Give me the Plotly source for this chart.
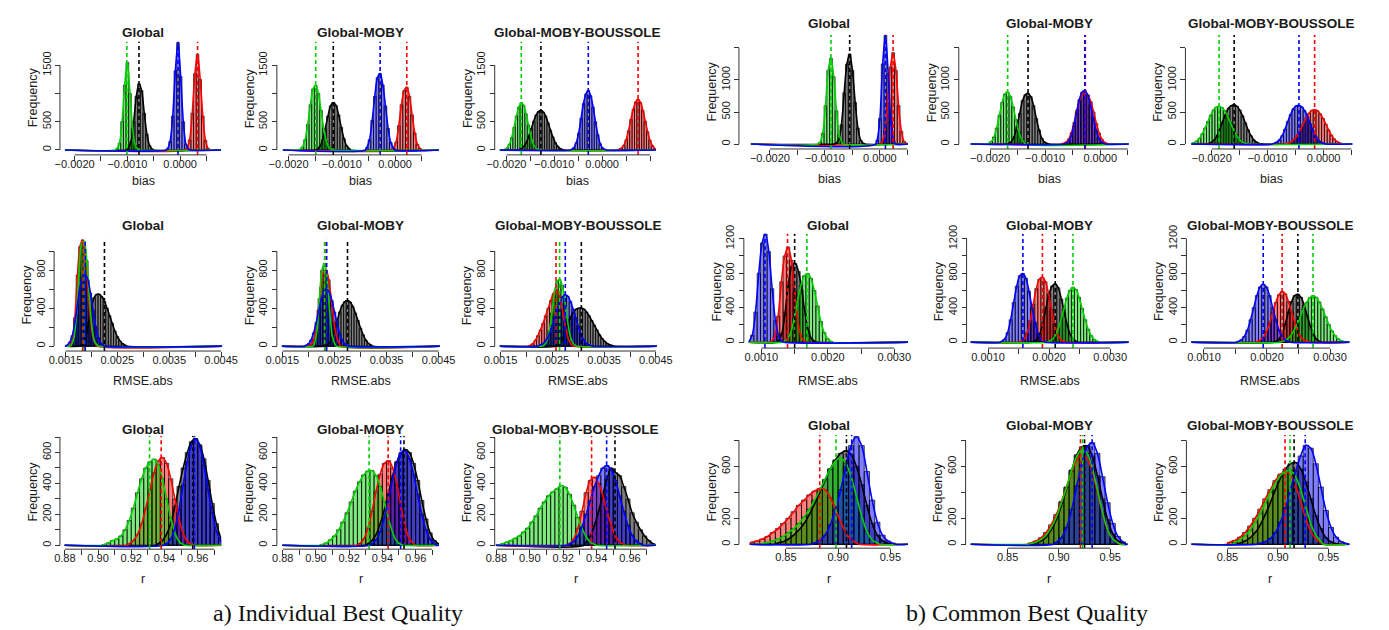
import plotly.graph_objects as go

# ------------------------------------------------------------------
# DATA
# ------------------------------------------------------------------
SERIES = ["black", "red", "green", "blue"]  # drawing order
PANEL_TITLES = ["Global", "Global-MOBY", "Global-MOBY-BOUSSOLE"]
X_LABELS = ["bias", "RMSE.abs", "r"]
Y_LABEL = "Frequency"
CAPTIONS = ["a) Individual Best Quality", "b) Common Best Quality"]

BIAS_TICKS = [-0.002, -0.0015, -0.001, -0.0005, 0.0, 0.0005, 0.001]
BIAS_TEXT = ["\u22120.0020", "", "\u22120.0010", "", "0.0000", "", ""]
RMSE_A_TICKS = [0.0015, 0.002, 0.0025, 0.003, 0.0035, 0.004, 0.0045]
RMSE_A_TEXT = ["0.0015", "", "0.0025", "", "0.0035", "", "0.0045"]
RMSE_B_TICKS = [0.001, 0.0015, 0.002, 0.0025, 0.003]
RMSE_B_TEXT = ["0.0010", "", "0.0020", "", "0.0030"]
R_A_TICKS = [0.88, 0.89, 0.90, 0.91, 0.92, 0.93, 0.94, 0.95, 0.96, 0.97]
R_A_TEXT = ["0.88", "", "0.90", "", "0.92", "", "0.94", "", "0.96", ""]
R_B_TICKS = [0.85, 0.90, 0.95]
R_B_TEXT = ["0.85", "0.90", "0.95"]

YT_A1 = [0, 500, 1000, 1500]; YL_A1 = ["0", "500", "", "1500"]
YT_B1 = [0, 500, 1000, 1500]; YL_B1 = ["0", "500", "1000", ""]
YT_A2 = [0, 200, 400, 600, 800, 1000]; YL_A2 = ["0", "", "400", "", "800", ""]
YT_B2 = [0, 200, 400, 600, 800, 1000, 1200]; YL_B2 = ["0", "", "400", "", "800", "", "1200"]
YT_A3 = [0, 100, 200, 300, 400, 500, 600, 700]; YL_A3 = ["0", "", "200", "", "400", "", "600", ""]
YT_B3 = [0, 200, 400, 600, 800]; YL_B3 = ["0", "200", "", "600", ""]

# ---- a) Individual best quality : bias ----
a11_bin = 0.00005
a11_mean = dict(green=-0.00101, black=-0.00078, blue=-0.00004, red=0.00033)
a11_start = dict(green=-0.001225, black=-0.001005, blue=-0.000265, red=0.000105)
a11_green = [20, 120, 500, 1150, 1550, 1000, 380, 80, 10]
a11_black = [30, 150, 500, 950, 1170, 1050, 650, 280, 80, 15]
a11_blue = [20, 150, 600, 1400, 1900, 1300, 500, 100, 15]
a11_red = [25, 180, 650, 1350, 1690, 1250, 600, 170, 25]

a12_bin = 0.00005
a12_mean = dict(green=-0.00149, black=-0.00116, blue=-0.00028, red=0.00022)
a12_start = dict(green=-0.001815, black=-0.001485, blue=-0.000555, red=-0.000055)
a12_green = [10, 50, 180, 450, 800, 1080, 1140, 1000, 700, 380, 150, 45, 10]
a12_black = [15, 60, 180, 380, 600, 780, 838, 790, 620, 400, 200, 75, 20]
a12_blue = [40, 180, 520, 950, 1280, 1350, 1150, 780, 380, 130, 30]
a12_red = [30, 140, 430, 800, 1050, 1110, 950, 620, 300, 100, 25]

a13_bin = 0.00005
a13_mean = dict(green=-0.00169, black=-0.00128, blue=-0.00029, red=0.00075)
a13_start = dict(green=-0.002065, black=-0.001755, blue=-0.000665, red=0.000325)
a13_green = [10, 35, 100, 220, 400, 600, 760, 838, 790, 640, 440, 250, 110, 40, 10]
a13_black = [10, 30, 70, 140, 250, 380, 510, 620, 680, 703, 670, 600, 480, 350, 230, 130, 65, 25, 8]
a13_blue = [10, 40, 130, 300, 560, 820, 990, 1052, 960, 760, 500, 270, 110, 35, 10]
a13_red = [10, 30, 80, 180, 340, 540, 720, 850, 895, 840, 700, 510, 320, 170, 75, 25, 8]

# ---- a) RMSE.abs ----
a21_bin = 0.00005
a21_mean = dict(red=0.00183, green=0.00186, blue=0.00188, black=0.00225)
a21_start = dict(red=0.001555, green=0.001585, blue=0.001505, black=0.001775)
a21_red = [5, 60, 300, 750, 1050, 1119, 950, 600, 280, 90, 20]
a21_green = [10, 80, 330, 780, 1080, 1100, 900, 520, 200, 50, 10]
a21_blue = [10, 40, 110, 250, 440, 620, 730, 755, 700, 560, 380, 210, 90, 30, 8]
a21_black = [10, 40, 120, 260, 400, 510, 545, 547, 520, 470, 400, 320, 240, 160, 100, 55, 25, 10]

a22_bin = 0.00005
a22_mean = dict(green=0.00231, red=0.00234, blue=0.00235, black=0.00275)
a22_start = dict(green=0.002085, red=0.002015, blue=0.001925, black=0.002325)
a22_green = [20, 150, 500, 800, 869, 700, 350, 100, 20]
a22_red = [10, 50, 160, 380, 620, 780, 800, 700, 480, 250, 100, 30]
a22_blue = [8, 25, 65, 140, 250, 380, 500, 580, 600, 570, 480, 360, 240, 130, 60, 22, 8]
a22_black = [10, 30, 80, 160, 260, 360, 430, 470, 480, 465, 420, 350, 270, 190, 120, 65, 30, 12]

a23_bin = 0.00005
a23_mean = dict(red=0.00257, green=0.00264, blue=0.00275, black=0.00306)
a23_start = dict(red=0.002045, green=0.002315, blue=0.002225, black=0.002585)
a23_red = [8, 25, 60, 110, 170, 240, 320, 400, 480, 550, 600, 560, 450, 300, 160, 60, 15]
a23_green = [10, 50, 160, 350, 560, 680, 703, 640, 480, 280, 120, 40, 10]
a23_blue = [8, 18, 40, 80, 140, 220, 310, 400, 470, 520, 540, 525, 470, 390, 300, 210, 130, 70, 32, 14, 5]
a23_black = [15, 40, 90, 160, 240, 310, 360, 390, 400, 402, 390, 360, 320, 270, 220, 170, 120, 80, 50, 28, 14, 6]

# ---- a) r ----
a31_bin = 0.0025
a31_mean = dict(green=0.931, red=0.938, blue=0.958, black=0.957)
a31_start = dict(green=0.9025, red=0.9175, blue=0.94, black=0.935)
a31_green = [5, 15, 30, 40, 60, 100, 160, 240, 340, 430, 500, 540, 557, 520, 430, 300, 180, 80, 25, 5]
a31_red = [10, 30, 70, 140, 240, 360, 470, 545, 568, 530, 430, 300, 170, 75, 25, 6]
a31_blue = [10, 40, 110, 230, 390, 540, 650, 689, 640, 520, 360, 210, 90, 30]
a31_black = [10, 30, 70, 140, 250, 380, 500, 600, 670, 690, 650, 560, 420, 270, 140, 50]

a32_bin = 0.0025
a32_mean = dict(green=0.932, red=0.9435, blue=0.951, black=0.953)
a32_start = dict(green=0.9025, red=0.925, blue=0.9325, black=0.93)
a32_green = [5, 15, 35, 60, 100, 150, 210, 280, 350, 410, 455, 480, 483, 450, 380, 280, 170, 80, 25, 5]
a32_red = [10, 40, 110, 220, 350, 460, 530, 547, 500, 390, 250, 120, 40, 10]
a32_blue = [10, 35, 90, 180, 300, 430, 540, 600, 610, 560, 460, 330, 200, 100, 40, 12]
a32_black = [10, 30, 70, 140, 230, 340, 450, 540, 590, 620, 600, 530, 420, 290, 170, 80, 30, 10]

a33_bin = 0.0025
a33_mean = dict(green=0.918, red=0.937, blue=0.946, black=0.951)
a33_start = dict(green=0.8825, red=0.9225, blue=0.9225, black=0.9325)
a33_green = [10, 20, 30, 45, 60, 85, 110, 150, 190, 240, 280, 320, 345, 365, 387, 375, 330, 260, 180, 110, 55, 20, 5]
a33_red = [10, 40, 110, 220, 340, 420, 440, 400, 320, 220, 130, 60, 22, 6]
a33_blue = [8, 25, 60, 120, 200, 290, 380, 450, 500, 515, 490, 420, 320, 220, 130, 65, 28, 10]
a33_black = [20, 60, 130, 220, 330, 430, 500, 470, 450, 380, 300, 210, 150, 100, 60, 30, 10]

# ---- b) Common best quality : bias ----
b11_bin = 0.00005
b11_mean = dict(green=-0.00089, black=-0.00055, blue=0.00010, red=0.00024)
b11_start = dict(green=-0.001115, black=-0.000825, blue=-0.000075, red=0.000015)
b11_green = [25, 170, 600, 1150, 1338, 1050, 520, 150, 25]
b11_black = [10, 60, 300, 800, 1250, 1405, 1150, 650, 250, 60, 10]
b11_blue = [60, 400, 1250, 1697, 1100, 350, 50]
b11_red = [30, 200, 650, 1200, 1426, 1150, 600, 200, 40, 8]

b12_bin = 0.00005
b12_mean = dict(green=-0.00168, black=-0.00131, blue=-0.00028, red=-0.00027)
b12_start = dict(green=-0.002055, black=-0.001685, blue=-0.000655, red=-0.000695)
b12_green = [10, 35, 110, 250, 450, 650, 780, 811, 740, 580, 380, 200, 80, 25]
b12_black = [10, 40, 120, 280, 480, 680, 770, 790, 740, 600, 400, 220, 90, 30, 8]
b12_blue = [10, 40, 120, 280, 490, 690, 810, 835, 770, 620, 420, 230, 100, 35, 10]
b12_red = [10, 30, 80, 180, 340, 530, 690, 780, 800, 760, 660, 500, 320, 170, 75, 25, 8]

b13_bin = 0.00005
b13_mean = dict(green=-0.00187, black=-0.00160, blue=-0.00044, red=-0.00016)
b13_start = dict(green=-0.002395, black=-0.002075, blue=-0.000915, red=-0.000685)
b13_green = [8, 20, 45, 90, 160, 250, 350, 450, 530, 575, 587, 570, 520, 440, 340, 240, 150, 85, 40, 18, 6]
b13_black = [10, 30, 70, 140, 240, 360, 470, 560, 600, 612, 590, 530, 440, 330, 220, 130, 65, 28, 10, 4]
b13_blue = [10, 28, 65, 130, 230, 350, 460, 550, 595, 602, 580, 520, 430, 320, 210, 120, 60, 25, 8]
b13_red = [8, 20, 45, 85, 150, 230, 320, 410, 480, 525, 536, 520, 470, 400, 310, 220, 140, 80, 40, 18, 6]

# ---- b) RMSE.abs ----
b21_bin = 0.00005
b21_mean = dict(blue=0.001053, red=0.001393, black=0.00150, green=0.001684)
b21_start = dict(blue=0.000786, red=0.001126, black=0.001233, green=0.00132)
b21_blue = [10, 80, 350, 800, 1150, 1257, 1050, 620, 250, 70, 10]
b21_red = [10, 70, 300, 700, 1000, 1101, 950, 580, 230, 60, 10]
b21_black = [20, 100, 350, 680, 880, 911, 820, 600, 330, 130, 35, 8]
b21_green = [10, 40, 120, 280, 480, 660, 770, 796, 740, 600, 420, 240, 110, 40, 10]

b22_bin = 0.00005
b22_mean = dict(blue=0.00157, red=0.00189, black=0.00210, green=0.00239)
b22_start = dict(blue=0.001195, red=0.001515, black=0.001725, green=0.001965)
b22_blue = [10, 35, 110, 260, 460, 650, 770, 796, 740, 590, 400, 230, 100, 35, 10]
b22_red = [10, 35, 110, 250, 440, 620, 730, 751, 700, 560, 380, 210, 90, 30, 8]
b22_black = [10, 30, 100, 230, 400, 560, 650, 674, 630, 500, 340, 190, 80, 28, 8]
b22_green = [8, 25, 65, 140, 250, 380, 510, 600, 636, 610, 520, 390, 260, 150, 75, 30, 10]

b23_bin = 0.00005
b23_mean = dict(blue=0.00194, red=0.00224, black=0.00249, green=0.00273)
b23_start = dict(blue=0.001515, red=0.001815, black=0.002115, green=0.002205)
b23_blue = [8, 25, 65, 140, 260, 400, 540, 640, 671, 640, 540, 400, 260, 140, 65, 25, 8]
b23_red = [8, 22, 55, 120, 220, 340, 460, 550, 586, 560, 470, 350, 230, 125, 58, 22, 8]
b23_black = [10, 35, 100, 210, 350, 470, 540, 556, 520, 430, 300, 180, 85, 30, 10]
b23_green = [8, 18, 40, 80, 140, 210, 300, 390, 460, 515, 537, 520, 465, 385, 295, 205, 130, 75, 38, 16, 6]

# ---- b) r ----
b31_bin = 0.005
b31_mean = dict(red=0.8824, green=0.898, black=0.908, blue=0.913)
b31_start = dict(red=0.815, green=0.825, black=0.84, blue=0.875)
b31_red = [15, 25, 40, 60, 90, 120, 160, 200, 250, 300, 340, 380, 410, 430, 420, 360, 270, 170, 90, 35, 10]
b31_green = [5, 15, 25, 40, 60, 90, 120, 160, 210, 270, 340, 420, 500, 580, 640, 668, 620, 520, 370, 220, 100, 35, 10]
b31_black = [10, 20, 40, 70, 110, 160, 230, 310, 400, 490, 580, 650, 700, 719, 690, 600, 460, 300, 160, 70, 25, 8]
b31_blue = [10, 30, 70, 150, 270, 420, 600, 760, 828, 760, 560, 340, 170, 70, 25, 8]

b32_bin = 0.005
b32_mean = dict(red=0.921, green=0.923, black=0.925, blue=0.9324)
b32_start = dict(red=0.87, green=0.87, black=0.875, blue=0.895)
b32_red = [10, 25, 50, 90, 150, 230, 330, 440, 560, 650, 690, 660, 560, 400, 240, 110, 40, 10]
b32_green = [5, 15, 35, 70, 130, 210, 320, 440, 570, 680, 731, 700, 590, 420, 250, 110, 40, 10]
b32_black = [10, 25, 55, 110, 190, 300, 430, 570, 690, 750, 757, 680, 530, 350, 190, 80, 25, 8]
b32_blue = [15, 50, 130, 270, 450, 630, 750, 782, 700, 520, 320, 160, 60, 18]

b33_bin = 0.005
b33_mean = dict(red=0.907, green=0.912, black=0.916, blue=0.927)
b33_start = dict(red=0.85, green=0.855, black=0.86, blue=0.88)
b33_red = [15, 30, 55, 90, 140, 200, 270, 350, 420, 490, 540, 560, 530, 450, 330, 200, 100, 40, 12]
b33_green = [15, 35, 65, 110, 170, 240, 320, 400, 470, 530, 560, 567, 520, 420, 290, 160, 70, 22]
b33_black = [10, 25, 50, 90, 150, 230, 320, 420, 510, 580, 620, 630, 580, 480, 350, 220, 120, 50, 18, 5]
b33_blue = [8, 20, 45, 90, 170, 280, 420, 560, 680, 762, 740, 620, 440, 260, 130, 55, 20, 6]

HISTS = {
    "a11": (a11_bin, a11_start, a11_mean, dict(black=a11_black, red=a11_red, green=a11_green, blue=a11_blue)),
    "a12": (a12_bin, a12_start, a12_mean, dict(black=a12_black, red=a12_red, green=a12_green, blue=a12_blue)),
    "a13": (a13_bin, a13_start, a13_mean, dict(black=a13_black, red=a13_red, green=a13_green, blue=a13_blue)),
    "a21": (a21_bin, a21_start, a21_mean, dict(black=a21_black, red=a21_red, green=a21_green, blue=a21_blue)),
    "a22": (a22_bin, a22_start, a22_mean, dict(black=a22_black, red=a22_red, green=a22_green, blue=a22_blue)),
    "a23": (a23_bin, a23_start, a23_mean, dict(black=a23_black, red=a23_red, green=a23_green, blue=a23_blue)),
    "a31": (a31_bin, a31_start, a31_mean, dict(black=a31_black, red=a31_red, green=a31_green, blue=a31_blue)),
    "a32": (a32_bin, a32_start, a32_mean, dict(black=a32_black, red=a32_red, green=a32_green, blue=a32_blue)),
    "a33": (a33_bin, a33_start, a33_mean, dict(black=a33_black, red=a33_red, green=a33_green, blue=a33_blue)),
    "b11": (b11_bin, b11_start, b11_mean, dict(black=b11_black, red=b11_red, green=b11_green, blue=b11_blue)),
    "b12": (b12_bin, b12_start, b12_mean, dict(black=b12_black, red=b12_red, green=b12_green, blue=b12_blue)),
    "b13": (b13_bin, b13_start, b13_mean, dict(black=b13_black, red=b13_red, green=b13_green, blue=b13_blue)),
    "b21": (b21_bin, b21_start, b21_mean, dict(black=b21_black, red=b21_red, green=b21_green, blue=b21_blue)),
    "b22": (b22_bin, b22_start, b22_mean, dict(black=b22_black, red=b22_red, green=b22_green, blue=b22_blue)),
    "b23": (b23_bin, b23_start, b23_mean, dict(black=b23_black, red=b23_red, green=b23_green, blue=b23_blue)),
    "b31": (b31_bin, b31_start, b31_mean, dict(black=b31_black, red=b31_red, green=b31_green, blue=b31_blue)),
    "b32": (b32_bin, b32_start, b32_mean, dict(black=b32_black, red=b32_red, green=b32_green, blue=b32_blue)),
    "b33": (b33_bin, b33_start, b33_mean, dict(black=b33_black, red=b33_red, green=b33_green, blue=b33_blue)),
}

X_TICKS = {
    "a1": (BIAS_TICKS, BIAS_TEXT), "b1": (BIAS_TICKS, BIAS_TEXT),
    "a2": (RMSE_A_TICKS, RMSE_A_TEXT), "b2": (RMSE_B_TICKS, RMSE_B_TEXT),
    "a3": (R_A_TICKS, R_A_TEXT), "b3": (R_B_TICKS, R_B_TEXT),
}
Y_TICKS = {
    "a1": (YT_A1, YL_A1), "b1": (YT_B1, YL_B1),
    "a2": (YT_A2, YL_A2), "b2": (YT_B2, YL_B2),
    "a3": (YT_A3, YL_A3), "b3": (YT_B3, YL_B3),
}

# ------------------------------------------------------------------
# LAYOUT (pixel geometry of each panel, styles)
# ------------------------------------------------------------------
W, H = 1389, 630
FONT = "Liberation Sans"
TXT = "#1a1a1a"
AXC = "#333333"
LINE_COL = dict(black="#000000", red="#ff0000", green="#00d000", blue="#0000ff")
FILL_COL = dict(black="rgba(0,0,0,0.5)", red="rgba(255,0,0,0.5)",
                green="rgba(0,210,0,0.5)", blue="rgba(0,0,255,0.5)")

# key: (y-axis x px, plot left px, plot right px, anchor tick value, anchor tick px, px per unit)
COLS = {
    "a11": (45, 50, 210, -0.002, 60, 54000),
    "a12": (267, 273, 433, -0.002, 279, 54500),
    "a13": (490, 495, 655, -0.002, 502, 49000),
    "a21": (39, 50, 211, 0.0015, 50.7, 53100),
    "a22": (267, 272, 434, 0.0015, 272.7, 53300),
    "a23": (490, 495, 656, 0.0015, 496, 53000),
    "a31": (45, 49.5, 210, 0.88, 50, 1700),
    "a32": (267, 272.5, 433, 0.88, 273, 1700),
    "a33": (490, 491, 655, 0.88, 491.7, 1710),
    "b11": (740, 752, 913, -0.002, 771.7, 56300),
    "b12": (965, 977, 1139, -0.002, 997, 56400),
    "b13": (1197, 1203, 1368, -0.002, 1224, 57200),
    "b21": (745, 750, 913, 0.001, 763, 68000),
    "b22": (973, 977, 1139, 0.001, 995, 62500),
    "b23": (1198, 1203, 1365, 0.001, 1216, 64500),
    "b31": (740, 751, 913, 0.85, 788, 1070),
    "b32": (972, 977, 1138, 0.85, 1015, 1050),
    "b33": (1198, 1203, 1365, 0.85, 1240, 1034),
}
# row: (x-axis y px, zero px, px per count, plot top px, title y, x-label y, y-label centre y)
ROWS = {
    "a1": (148, 143, 86 / 1500, 33, 24, 174, 90),
    "b1": (142, 137, 0.065, 26, 15, 172, 84),
    "a2": (347, 342, 0.09625, 233, 220, 377, 290),
    "b2": (344, 338, 0.0875, 228, 220, 377, 286),
    "a3": (548, 544, 0.1567, 433, 427, 578, 490),
    "b3": (547, 543, 0.1317, 432, 423, 578, 490),
}

ORDER = ["a11", "a12", "a13", "a21", "a22", "a23", "a31", "a32", "a33",
         "b11", "b12", "b13", "b21", "b22", "b23", "b31", "b32", "b33"]

fig = go.Figure()
layout = dict(width=W, height=H, margin=dict(l=0, r=0, t=0, b=0),
              paper_bgcolor="white", plot_bgcolor="rgba(0,0,0,0)",
              showlegend=False, barmode="overlay")
shapes, annotations = [], []

for i, key in enumerate(ORDER, start=1):
    L, D0, D1, tv, tp, k = COLS[key]
    rk = key[0] + key[1]
    B, p0, s, T, title_y, xl_y, yl_y = ROWS[rk]
    xr = [tv + (D0 - tp) / k, tv + (D1 - tp) / k]
    yr = [-(B - p0) / s, (p0 - T) / s]
    sfx = "" if i == 1 else str(i)
    xref, yref = "x" + sfx, "y" + sfx

    xt_all, xl_all = X_TICKS[rk]
    keep = [xr[0] - 1e-9 <= v <= xr[1] + 1e-9 for v in xt_all]
    xt = [v for v, kp in zip(xt_all, keep) if kp]
    xl = [l for l, kp in zip(xl_all, keep) if kp]
    yt_all, yl_all = Y_TICKS[rk]
    yt = [v for v in yt_all if v <= yr[1]]
    yl = [l for v, l in zip(yt_all, yl_all) if v <= yr[1]]

    layout["xaxis" + sfx] = dict(
        domain=[D0 / W, D1 / W], range=xr, anchor="free", position=1 - B / H,
        tickmode="array", tickvals=xt, ticktext=xl, ticks="outside", ticklen=5,
        tickwidth=1, tickcolor=AXC, showline=False, showgrid=False, zeroline=False,
        ticklabelstandoff=-6,
        tickfont=dict(family=FONT, size=11, color=TXT), fixedrange=True)
    layout["yaxis" + sfx] = dict(
        domain=[1 - B / H, 1 - T / H], range=yr, anchor="free", position=L / W,
        tickmode="array", tickvals=yt, ticktext=yl, ticks="outside", ticklen=5,
        tickwidth=1, tickcolor=AXC, showline=False, showgrid=False, zeroline=False,
        tickangle=-90, tickfont=dict(family=FONT, size=11, color=TXT), fixedrange=True)

    # axis lines spanning first..last tick (R style)
    shapes.append(dict(type="line", xref=xref, yref="paper", x0=xt[0], x1=xt[-1],
                       y0=1 - B / H, y1=1 - B / H, line=dict(color=AXC, width=1)))
    shapes.append(dict(type="line", xref="paper", yref=yref, x0=L / W, x1=L / W,
                       y0=yt[0], y1=yt[-1], line=dict(color=AXC, width=1)))

    w, starts, means, counts = HISTS[key]
    # histograms
    for sname in SERIES:
        c = counts[sname]
        centers = [starts[sname] + (j + 0.5) * w for j in range(len(c))]
        fig.add_trace(go.Bar(x=centers, y=c, width=[w] * len(c), xaxis=xref, yaxis=yref,
                             marker=dict(color=FILL_COL[sname], line=dict(color="black", width=0.7)),
                             hoverinfo="skip"))
    # fitted curves
    for sname in SERIES:
        c = counts[sname]
        centers = [starts[sname] + (j + 0.5) * w for j in range(len(c))]
        end = starts[sname] + len(c) * w
        xs = [xr[0], starts[sname]] + centers + [end, xr[1]]
        ys = [0, 0] + c + [0, 0]
        fig.add_trace(go.Scatter(x=xs, y=ys, mode="lines", xaxis=xref, yaxis=yref,
                                 line=dict(color=LINE_COL[sname], width=1.6, shape="spline", smoothing=0.9),
                                 hoverinfo="skip"))
    # mean lines
    for sname in SERIES:
        m = means[sname]
        fig.add_trace(go.Scatter(x=[m, m], y=[yr[0], yr[1]], mode="lines", xaxis=xref, yaxis=yref,
                                 line=dict(color=LINE_COL[sname], width=1.6, dash="4px,3px"),
                                 hoverinfo="skip"))

    # texts
    col = int(key[2]) - 1
    row = int(key[1]) - 1
    annotations.append(dict(text="<b>" + PANEL_TITLES[col] + "</b>", xref="paper", yref="paper",
                            x=(D0 + D1) / 2 / W, y=1 - title_y / H, showarrow=False,
                            xanchor="center", yanchor="middle",
                            font=dict(family=FONT, size=13.5, color=TXT)))
    annotations.append(dict(text=X_LABELS[row], xref="paper", yref="paper",
                            x=(D0 + D1) / 2 / W, y=1 - xl_y / H, showarrow=False,
                            xanchor="center", yanchor="middle",
                            font=dict(family=FONT, size=12.5, color=TXT)))
    annotations.append(dict(text=Y_LABEL, xref="paper", yref="paper", textangle=-90,
                            x=(L - 28) / W, y=1 - yl_y / H, showarrow=False,
                            xanchor="center", yanchor="middle",
                            font=dict(family=FONT, size=12.5, color=TXT)))

annotations.append(dict(text=CAPTIONS[0], xref="paper", yref="paper", x=330 / W, y=1 - 613 / H,
                        showarrow=False, xanchor="center", yanchor="middle",
                        font=dict(family="Liberation Serif", size=24, color="#111")))
annotations.append(dict(text=CAPTIONS[1], xref="paper", yref="paper", x=1035 / W, y=1 - 613 / H,
                        showarrow=False, xanchor="center", yanchor="middle",
                        font=dict(family="Liberation Serif", size=24, color="#111")))

layout["shapes"] = shapes
layout["annotations"] = annotations
fig.update_layout(**layout)
fig.write_html("out.html")
